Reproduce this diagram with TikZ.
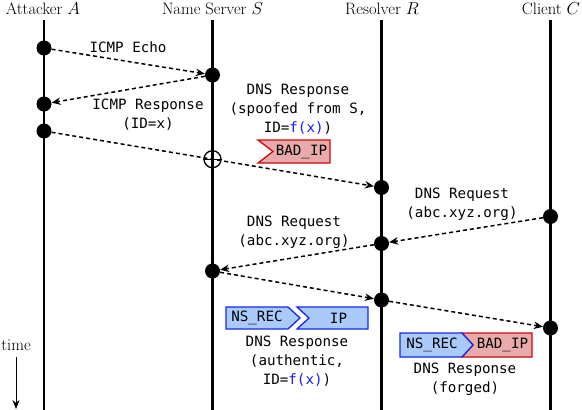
\documentclass[tikz,border=0pt]{standalone}
\usepackage{fontspec}
\setmonofont{DejaVu Sans Mono}
\usetikzlibrary{arrows.meta,calc}
\definecolor{boxblue}{RGB}{170,202,250}
\definecolor{edgeblue}{RGB}{20,40,235}
\definecolor{boxred}{RGB}{232,170,170}
\definecolor{edgered}{RGB}{204,10,10}
\definecolor{fblue}{RGB}{20,30,240}
\begin{document}
\begin{tikzpicture}[x=1pt,y=-1pt,
  lifeline/.style={line width=2.6pt},
  evt/.style={circle,fill=black,inner sep=0pt,minimum size=15pt},
  msg/.style={line width=1.5pt,dash pattern=on 4pt off 3pt,-{Stealth[length=9pt,width=7.5pt]}},
  hdr/.style={font=\fontsize{16.5}{18}\selectfont,anchor=base,inner sep=0pt},
  lbl/.style={font=\ttfamily\fontsize{14.2}{19}\selectfont,align=center,inner sep=0pt},
  bluebox/.style={fill=boxblue,draw=edgeblue,line width=1.3pt},
  redbox/.style={fill=boxred,draw=edgered,line width=1.3pt},
  boxtxt/.style={font=\ttfamily\fontsize{14.2}{17}\selectfont,inner sep=0pt}
]
\useasboundingbox (0,0) rectangle (582,410);

% headers
\node[hdr] (hA) at (43,14) {Attacker $A$};
\node[hdr] (hS) at (212.5,14) {Name Server $S$};
\node[hdr] (hR) at (382,14) {Resolver $R$};
\node[hdr] (hC) at (551,14) {Client $C$};

% lifelines
\coordinate (topA) at (44,20);   \coordinate (botA) at (44,410);
\coordinate (topS) at (212.5,20); \coordinate (botS) at (212.5,410);
\coordinate (topR) at (381.5,20); \coordinate (botR) at (381.5,410);
\coordinate (topC) at (550.5,20); \coordinate (botC) at (550.5,410);
\draw[lifeline] (topA) -- (botA);
\draw[lifeline] (topS) -- (botS);
\draw[lifeline] (topR) -- (botR);
\draw[lifeline] (topC) -- (botC);

% events
\node[evt] (a1) at (44,48) {};
\node[evt] (s1) at (212.5,75) {};
\node[evt] (a2) at (44,104) {};
\node[evt] (a3) at (44,131) {};
\node[evt] (r1) at (381.5,187.5) {};
\node[evt] (c1) at (550.5,216.5) {};
\node[evt] (r2) at (381.5,243.5) {};
\node[evt] (s2) at (212.5,271) {};
\node[evt] (r3) at (381.5,300) {};
\node[evt] (c2) at (550.5,328) {};

% messages
\draw[msg] (a1) -- (s1);
\draw[msg] (s1) -- (a2);
\draw[msg] (a3) -- (r1);
\draw[msg] (c1) -- (r2);
\draw[msg] (r2) -- (s2);
\draw[msg] (s2) -- (r3);
\draw[msg] (r3) -- (c2);

% crossing mark
\node[circle,draw,line width=1.3pt,minimum size=17pt,inner sep=0pt] (xs)
  at ($(a3)!{(212.5-44)/(381.5-44)}!(r1)$) {};
\draw[line width=1.3pt] (xs.west) -- (xs.east);

% labels
\node[lbl] (l1) at (128,47) {ICMP Echo};
\node[lbl] (l2) at (148,115) {ICMP Response\\(ID=x)};
\node[lbl] (l3) at (298,109) {DNS Response\\(spoofed from S,\\ID=\textcolor{fblue}{f(x)})};
\node[lbl] (l4) at (462,204.5) {DNS Request\\(abc.xyz.org)};
\node[lbl] (l5) at (294,232.5) {DNS Request\\(abc.xyz.org)};
\node[lbl] (l6) at (297,361) {DNS Response\\(authentic,\\ID=\textcolor{fblue}{f(x)})};
\node[lbl] (l7) at (465,379) {DNS Response\\(forged)};

% spoofed BAD_IP flag
\draw[redbox] (258,140) -- (330,140) -- (330,163) -- (258,163) -- (273,151.5) -- cycle;
\node[boxtxt] (bad1) at (301.5,151.5) {BAD\_IP};

% authentic record
\draw[bluebox] (226,307) -- (288,307) -- (300,318) -- (288,329) -- (226,329) -- cycle;
\node[boxtxt] (ns1) at (257,318) {NS\_REC};
\draw[bluebox] (297,307) -- (368,307) -- (368,329) -- (297,329) -- (309,318) -- cycle;
\node[boxtxt] (ip1) at (338.5,318) {IP};

% forged record
\draw[redbox] (462,333) -- (532,333) -- (532,357) -- (462,357) -- (473,345) -- cycle;
\draw[bluebox] (400,333) -- (462,333) -- (473,345) -- (462,357) -- (400,357) -- cycle;
\node[boxtxt] (ns2) at (432,345) {NS\_REC};
\node[boxtxt] (bad2) at (502.5,345) {BAD\_IP};

% time arrow
\node[hdr,anchor=center] (time) at (16,345) {time};
\coordinate (tTop) at (16,357);
\coordinate (tBot) at (16,409);
\draw[line width=1pt,-{Stealth[length=9pt,width=7pt]}] (tTop) -- (tBot);
\end{tikzpicture}
\end{document}
